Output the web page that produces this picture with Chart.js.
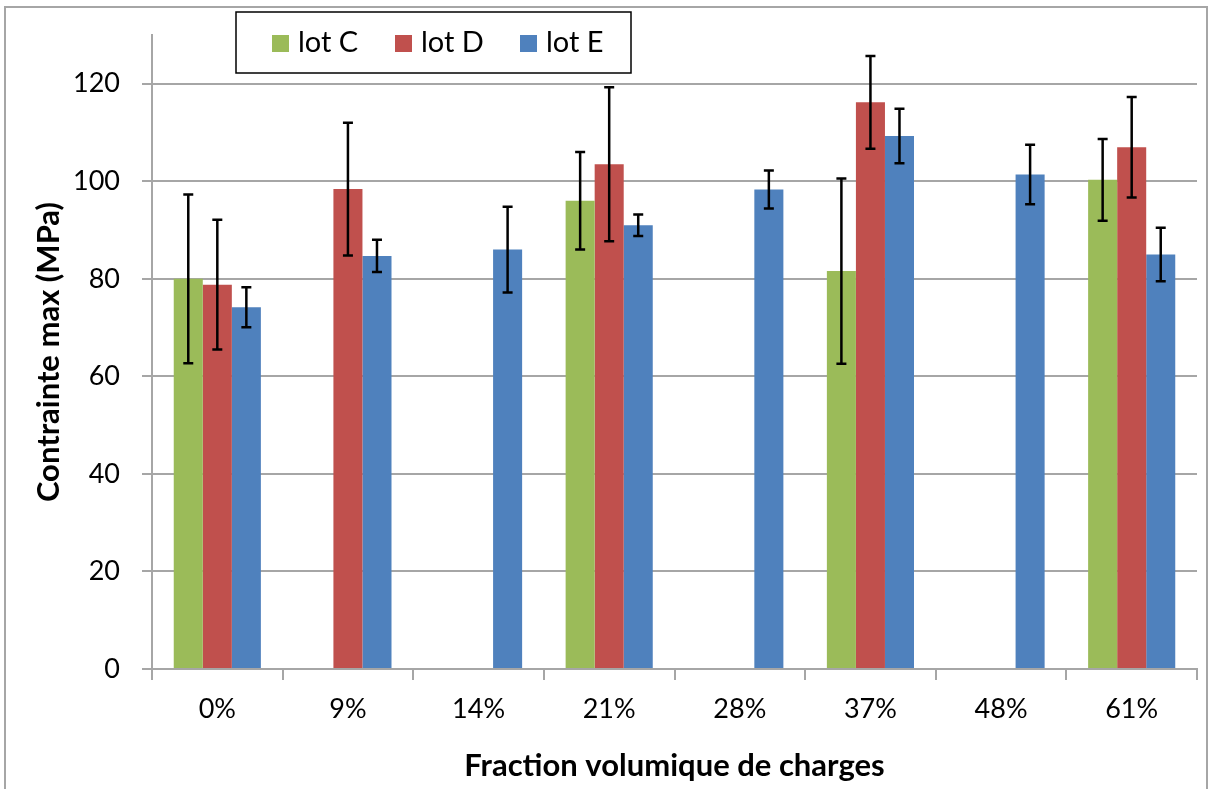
<!DOCTYPE html>
<html>
<head>
<meta charset="utf-8">
<script src="https://cdn.jsdelivr.net/npm/chart.js@4.4.1/dist/chart.umd.min.js"></script>
<style>
  html, body { margin: 0; padding: 0; background: #fff; }
  #wrap { position: relative; width: 1211px; height: 789px; }
</style>
</head>
<body>
<div id="wrap"><canvas id="chart" width="1211" height="789"></canvas></div>
<script>
// --- données ---
const categories = ['0%', '9%', '14%', '21%', '28%', '37%', '48%', '61%'];
const seriesNames = ['lot C', 'lot D', 'lot E'];
const lotC = [80.0, null, null, 96.0, null, 81.6, null, 100.3];
const lotD = [78.8, 98.4, null, 103.5, null, 116.2, null, 107.0];
const lotE = [74.2, 84.7, 86.0, 91.0, 98.3, 109.3, 101.4, 85.0];
// écarts-types (barres d'erreur)
const errC = [17.3, null, null, 10.0, null, 19.0, null, 8.4];
const errD = [13.3, 13.6, null, 15.8, null, 9.5, null, 10.3];
const errE = [4.1, 3.3, 8.8, 2.2, 3.9, 5.6, 6.1, 5.5];
const yTicks = [0, 20, 40, 60, 80, 100, 120];

const colors = ['#9BBB59', '#C0504D', '#4F81BD'];
const FONT = 'Lato, "Open Sans", sans-serif';

// barres d'erreur dessinées à partir des échelles
const errorBars = {
    id: 'errorBars',
    afterDatasetsDraw(chart) {
        const ctx = chart.ctx;
        const y = chart.scales.y;
        ctx.save();
        ctx.strokeStyle = '#000';
        ctx.lineWidth = 2.5;
        chart.data.datasets.forEach((ds, i) => {
            const meta = chart.getDatasetMeta(i);
            meta.data.forEach((bar, j) => {
                const v = ds.data[j];
                const e = ds.errors[j];
                if (v == null || e == null) return;
                const top = y.getPixelForValue(v + e);
                const bot = y.getPixelForValue(v - e);
                const x = bar.x;
                ctx.beginPath();
                ctx.moveTo(x, top); ctx.lineTo(x, bot);
                ctx.moveTo(x - 5, top); ctx.lineTo(x + 5, top);
                ctx.moveTo(x - 5, bot); ctx.lineTo(x + 5, bot);
                ctx.stroke();
            });
        });
        ctx.restore();
    }
};

// cadre extérieur + légende encadrée
const frameLegend = {
    id: 'frameLegend',
    afterDraw(chart) {
        const ctx = chart.ctx;
        ctx.save();
        ctx.strokeStyle = '#A6A6A6';
        ctx.lineWidth = 2;
        ctx.strokeRect(5, 7, 1202, 800);

        ctx.fillStyle = '#fff';
        ctx.fillRect(236, 12, 395, 61);
        ctx.strokeStyle = '#000';
        ctx.lineWidth = 1.5;
        ctx.strokeRect(236, 12, 395, 61);

        const boxX = [272, 395, 520];
        ctx.font = '29px ' + FONT;
        ctx.textBaseline = 'alphabetic';
        chart.data.datasets.forEach((ds, i) => {
            ctx.fillStyle = ds.backgroundColor;
            ctx.fillRect(boxX[i], 35, 17, 17);
            ctx.fillStyle = '#000';
            ctx.fillText(ds.label, boxX[i] + 26, 52);
        });
        ctx.restore();
    }
};

function makeDataset(i, data, errors) {
    return {
        label: seriesNames[i],
        data: data,
        errors: errors,
        backgroundColor: colors[i],
        borderWidth: 0,
        barPercentage: 1.0,
        categoryPercentage: 0.667
    };
}

new Chart(document.getElementById('chart'), {
    type: 'bar',
    data: {
        labels: categories,
        datasets: [
            makeDataset(0, lotC, errC),
            makeDataset(1, lotD, errD),
            makeDataset(2, lotE, errE)
        ]
    },
    options: {
        responsive: false,
        animation: false,
        layout: { padding: { left: 0, top: 35, right: 14, bottom: 0 } },
        plugins: { legend: { display: false }, tooltip: { enabled: false } },
        scales: {
            x: {
                grid: { offset: true, drawOnChartArea: false, color: '#A6A6A6', lineWidth: 2, tickLength: 11 },
                border: { color: '#A6A6A6', width: 2 },
                ticks: { color: '#000', font: { family: FONT, size: 27 }, padding: 13 },
                title: { display: true, text: 'Fraction volumique de charges', color: '#000',
                         font: { family: FONT, size: 31, weight: 'bold' }, padding: { top: 12 } },
                afterFit(axis) { axis.height = 120; }
            },
            y: {
                min: 0,
                max: 130,
                afterBuildTicks(axis) { axis.ticks = yTicks.map(v => ({ value: v })); },
                grid: { color: '#A6A6A6', lineWidth: 2, tickLength: 10 },
                border: { color: '#A6A6A6', width: 2 },
                ticks: { color: '#000', font: { family: FONT, size: 27 }, padding: 22 },
                title: { display: true, text: 'Contrainte max (MPa)', color: '#000',
                         font: { family: FONT, size: 31, weight: 'bold' }, padding: { top: 30 } },
                afterFit(axis) {
                    axis.width = 152;
                    axis.paddingTop = 0;
                    axis.paddingBottom = 0;
                }
            }
        }
    },
    plugins: [errorBars, frameLegend]
});
</script>
</body>
</html>
